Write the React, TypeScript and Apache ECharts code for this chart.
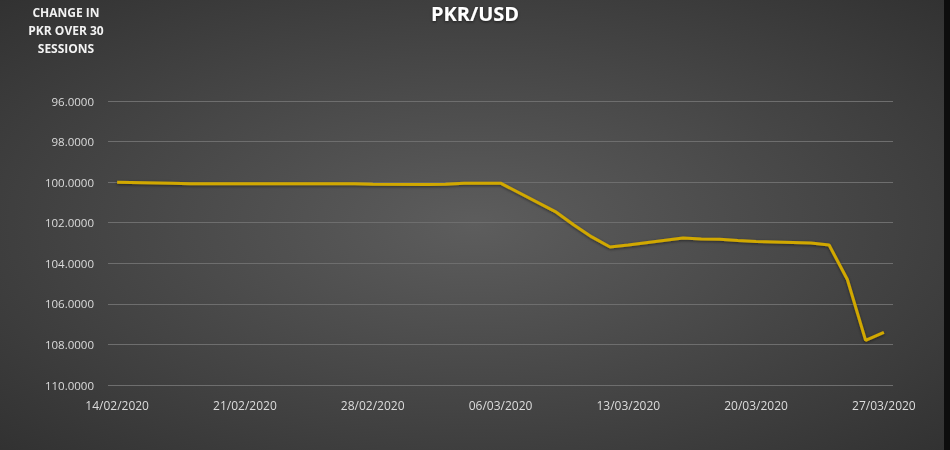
import React, { useEffect, useRef } from "react";
import * as echarts from "echarts";

// Trading sessions (dd/mm/yyyy) and the PKR/USD index
const sessionDates: string[] = [
  "14/02/2020",
  "17/02/2020", "18/02/2020", "19/02/2020", "20/02/2020", "21/02/2020",
  "24/02/2020", "25/02/2020", "26/02/2020", "27/02/2020", "28/02/2020",
  "02/03/2020", "03/03/2020", "04/03/2020", "05/03/2020", "06/03/2020",
  "09/03/2020", "10/03/2020", "11/03/2020", "12/03/2020", "13/03/2020",
  "16/03/2020", "17/03/2020", "18/03/2020", "19/03/2020", "20/03/2020",
  "23/03/2020", "24/03/2020", "25/03/2020", "26/03/2020", "27/03/2020",
];
const sessionValues: number[] = [
  100.0,
  100.05, 100.08, 100.08, 100.08, 100.08,
  100.08, 100.08, 100.08, 100.08, 100.1,
  100.12, 100.1, 100.05, 100.05, 100.05,
  101.45, 102.1, 102.7, 103.2, 103.1,
  102.75, 102.8, 102.82, 102.88, 102.92,
  103.0, 103.1, 104.8, 107.8, 107.4,
];

const yMin = 96;
const yMax = 110;
const yStep = 2;

const titleText = "PKR/USD";
const sideNote = "CHANGE IN\nPKR OVER 30\nSESSIONS";

function pad(n: number) {
  return n < 10 ? "0" + n : "" + n;
}
function parseDate(s: string) {
  const [d, m, y] = s.split("/").map(Number);
  return new Date(Date.UTC(y, m - 1, d));
}
function fmt(dt: Date) {
  return pad(dt.getUTCDate()) + "/" + pad(dt.getUTCMonth() + 1) + "/" + dt.getUTCFullYear();
}

export default function App() {
  const ref = useRef<HTMLDivElement>(null);
  useEffect(() => {
    if (!ref.current) return;
    const chart = echarts.init(ref.current, undefined, { renderer: "svg" });

    // Build a continuous day axis (Excel date axis) from first to last session
    const start = parseDate(sessionDates[0]);
    const end = parseDate(sessionDates[sessionDates.length - 1]);
    const days: string[] = [];
    for (let t = start.getTime(); t <= end.getTime(); t += 86400000) {
      days.push(fmt(new Date(t)));
    }
    const lookup: Record<string, number> = {};
    sessionDates.forEach((d, i) => (lookup[d] = sessionValues[i]));
    const data = days.map((d) => (d in lookup ? lookup[d] : null));

    const font = "'Open Sans', 'Noto Sans', sans-serif";

    chart.setOption({
      animation: false,
      backgroundColor: {
        type: "radial",
        x: 0.5,
        y: 0.5,
        r: 0.75,
        colorStops: [
          { offset: 0, color: "#5d5d5d" },
          { offset: 1, color: "#2f2f2f" },
        ],
      },
      grid: { left: 108, right: 57, top: 101, bottom: 65, containLabel: false },
      xAxis: {
        type: "category",
        data: days,
        boundaryGap: true,
        axisLine: { show: false },
        axisTick: { show: false },
        axisLabel: {
          interval: 6,
          color: "#dcdcdc",
          fontFamily: font,
          fontSize: 12,
          margin: 14,
        },
        splitLine: { show: false },
      },
      yAxis: {
        type: "value",
        inverse: true,
        min: yMin,
        max: yMax,
        interval: yStep,
        axisLine: { show: false },
        axisTick: { show: false },
        axisLabel: {
          color: "#dcdcdc",
          fontFamily: font,
          fontSize: 11.5,
          margin: 14,
          formatter: (v: number) => v.toFixed(4),
        },
        splitLine: { lineStyle: { color: "#6e6e6e", width: 1 } },
      },
      series: [
        {
          type: "line",
          data,
          connectNulls: true,
          showSymbol: false,
          symbol: "none",
          lineStyle: {
            color: "#d1a800",
            width: 3,
            shadowColor: "rgba(0,0,0,0.5)",
            shadowBlur: 3,
            shadowOffsetY: 1,
          },
        },
      ],
      graphic: [
        {
          type: "rect",
          right: 0,
          top: 0,
          shape: { width: 6, height: 450 },
          style: { fill: "#0d0d0d" },
          silent: true,
        },
        {
          type: "text",
          left: "center",
          top: 3,
          style: {
            text: titleText,
            fill: "#ffffff",
            font: "bold 20px " + font,
            textShadowColor: "rgba(0,0,0,0.6)",
            textShadowBlur: 3,
            textShadowOffsetY: 1,
          },
        },
        {
          type: "text",
          x: 66,
          y: 3,
          style: {
            text: sideNote,
            fill: "#f2f2f2",
            font: "bold 12px " + font,
            align: "center",
            lineHeight: 18,
          },
        },
      ],
    });
    return () => chart.dispose();
  }, []);
  return (
    <div
      ref={ref}
      style={{ position: "fixed", left: 0, top: 0, width: 950, height: 450 }}
    />
  );
}
